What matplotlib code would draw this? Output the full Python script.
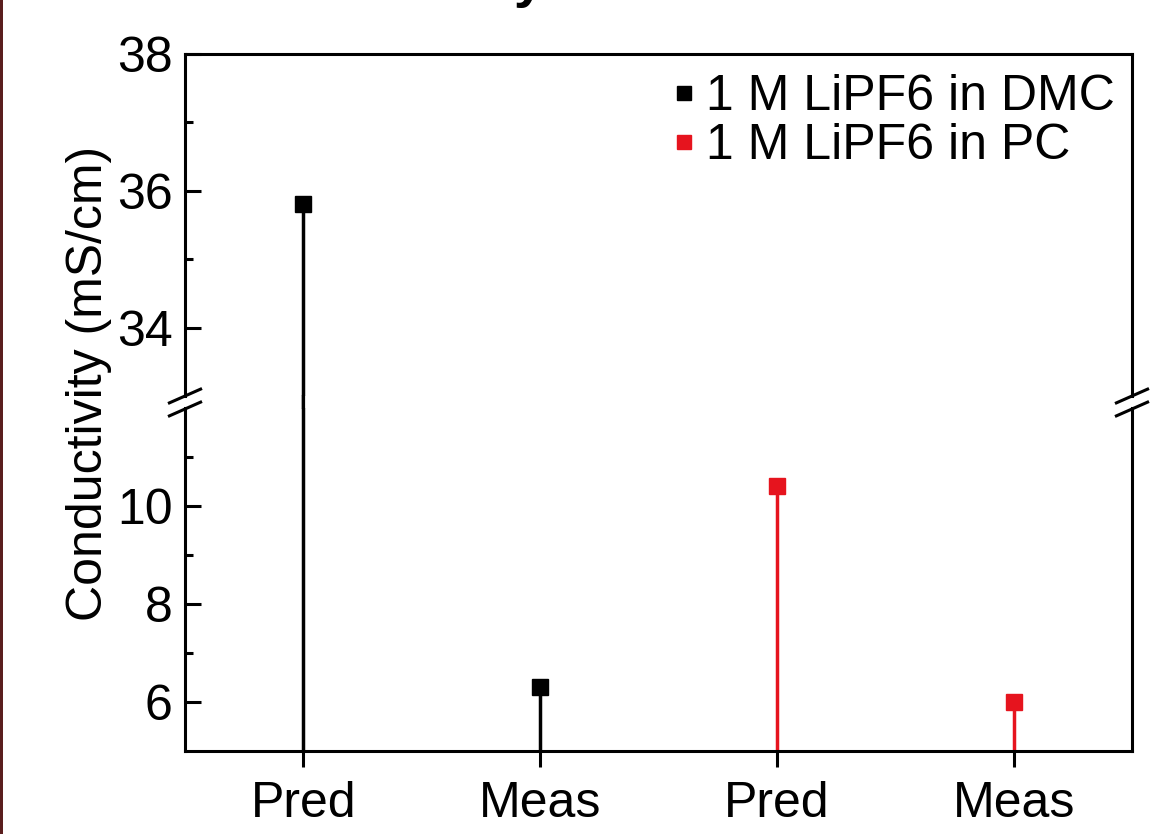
import matplotlib
matplotlib.use("Agg")
import matplotlib.pyplot as plt
from matplotlib.patches import ConnectionPatch, Rectangle
from matplotlib.lines import Line2D

plt.rcParams['font.family'] = ['Liberation Sans', 'DejaVu Sans']

# ---- data ----
categories = ["Pred", "Meas", "Pred", "Meas"]
dmc_positions = [0, 1]
dmc_values = [35.8, 6.3]
pc_positions = [2, 3]
pc_values = [10.4, 6.0]
series_labels = ["1 M LiPF6 in DMC", "1 M LiPF6 in PC"]
series_colors = ["#000000", "#E6141E"]
upper_range = (33, 38)
lower_range = (5, 12)
upper_major = [34, 36, 38]
upper_minor = [35, 37]
lower_major = [6, 8, 10]
lower_minor = [7, 9, 11]
ylabel = "Conductivity (mS/cm)"
title = "Conductivity"

W, H = 1166, 834
fig = plt.figure(figsize=(W / 100, H / 100), dpi=100)
fig.patch.set_facecolor("white")

left, right = 185 / W, 1132 / W
top_y0, top_y1 = 1 - 396 / H, 1 - 54 / H
bot_y0, bot_y1 = 1 - 751 / H, 1 - 408 / H
ax_top = fig.add_axes([left, top_y0, right - left, top_y1 - top_y0])
ax_bot = fig.add_axes([left, bot_y0, right - left, bot_y1 - bot_y0], sharex=ax_top)

LW = 2.2
FS = 36

series = [
    (dmc_positions, dmc_values, series_colors[0], series_labels[0]),
    (pc_positions, pc_values, series_colors[1], series_labels[1]),
]

handles = []
for xs, vals, col, lab in series:
    for ax in (ax_top, ax_bot):
        ax.vlines(xs, lower_range[0], vals, colors=col, lw=2.5, zorder=2)
        ax.plot(xs, vals, "s", ms=12, color=col, zorder=3)
    # continue tall stems through the axis break
    for x, v in zip(xs, vals):
        if v > lower_range[1]:
            con = ConnectionPatch(xyA=(x, lower_range[1]), coordsA=ax_bot.transData,
                                  xyB=(x, upper_range[0]), coordsB=ax_top.transData,
                                  color=col, lw=2.5)
            fig.add_artist(con)
    handles.append(Line2D([], [], ls="none", marker="s", ms=10, color=col, label=lab))

ax_top.set_xlim(-0.5, 3.5)
ax_top.set_ylim(*upper_range)
ax_bot.set_ylim(*lower_range)

ax_top.set_yticks(upper_major)
ax_top.set_yticks(upper_minor, minor=True)
ax_bot.set_yticks(lower_major)
ax_bot.set_yticks(lower_minor, minor=True)
ax_bot.set_xticks(range(len(categories)))
ax_bot.set_xticklabels(categories)

for ax in (ax_top, ax_bot):
    for s in ax.spines.values():
        s.set_linewidth(LW)
    ax.tick_params(axis="y", which="major", direction="in", length=11.5, width=LW,
                   labelsize=FS, pad=9, right=False)
    ax.tick_params(axis="y", which="minor", direction="in", length=6, width=LW, right=False)

ax_top.spines["bottom"].set_visible(False)
ax_bot.spines["top"].set_visible(False)
ax_top.tick_params(axis="x", which="both", bottom=False, top=False, labelbottom=False)
ax_bot.tick_params(axis="x", which="major", direction="out", length=11.5, width=LW,
                   labelsize=FS, pad=10, top=False)

# break marks on both vertical spines
def px(x, y):
    return x / W, 1 - y / H

for x_sp in (185, 1132):
    for y_c in (396, 409):
        (x0, y0), (x1, y1) = px(x_sp - 17, y_c + 7.5), px(x_sp + 17, y_c - 7.5)
        fig.add_artist(Line2D([x0, x1], [y0, y1], transform=fig.transFigure,
                              color="black", lw=LW, solid_capstyle="butt"))

fig.text(89 / W, 1 - 383 / H, ylabel, rotation=90, ha="center", va="center", fontsize=FS)

leg = fig.legend(handles=handles, loc="upper left", bbox_to_anchor=(670 / W, 1 - 74 / H),
                 bbox_transform=fig.transFigure, frameon=False, fontsize=FS,
                 handlelength=0.55, handletextpad=0.18, labelspacing=0.06,
                 borderpad=0, borderaxespad=0)

fig.text(545 / W, 1 + 4 / H, title, fontsize=40, fontweight="bold", ha="right", va="baseline")

fig.add_artist(Rectangle((0, 0), 3 / W, 1, transform=fig.transFigure,
                         facecolor="#5a1e1e", edgecolor="none"))

fig.savefig("out.png", dpi=100)
